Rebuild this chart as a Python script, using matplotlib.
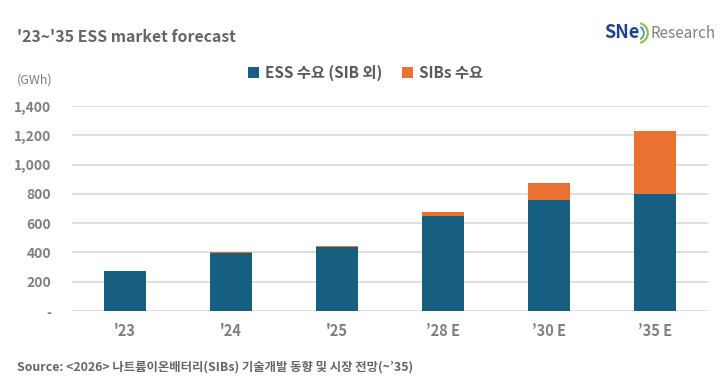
import numpy as np
import matplotlib
matplotlib.use("Agg")
import matplotlib.pyplot as plt
from matplotlib.patches import Arc

plt.rcParams['font.family'] = ['Noto Sans CJK KR', 'DejaVu Sans']

# data (GWh)
years = ["'23", "'24", "'25", "\u201928 E", "\u201930 E", "\u201935 E"]
ess_demand = [272, 396, 436, 648, 758, 800]
sib_demand = [3, 7, 10, 28, 116, 429]
y_ticks = [0, 200, 400, 600, 800, 1000, 1200, 1400]
y_tick_labels = ["-", "200", "400", "600", "800", "1,000", "1,200", "1,400"]

BLUE = "#175F80"
ORANGE = "#E97132"
GRAY = "#7F7F7F"

fig = plt.figure(figsize=(7.24, 3.81), dpi=100)
ax = fig.add_axes([72 / 724, 1 - 311 / 381, 636 / 724, 205 / 381])

x = np.arange(len(years))
ax.bar(x, ess_demand, width=0.4, color=BLUE, label="ESS 수요 (SIB 외)", zorder=3)
ax.bar(x, sib_demand, width=0.4, bottom=ess_demand, color=ORANGE, label="SIBs 수요", zorder=3)

ax.set_xlim(-0.5, len(years) - 0.5)
ax.set_ylim(0, 1400)
ax.set_yticks(y_ticks)
ax.set_yticklabels(y_tick_labels)
ax.set_xticks(x)
ax.set_xticklabels(years)
ax.yaxis.grid(True, color="#D9D9D9", linewidth=1.2, zorder=0)
ax.set_axisbelow(True)
for s in ax.spines.values():
    s.set_visible(False)
ax.tick_params(length=0)
ax.tick_params(axis="y", pad=15, labelsize=10, labelcolor=GRAY)
ax.tick_params(axis="x", pad=9, labelsize=10.5, labelcolor=GRAY)
for t in ax.get_xticklabels() + ax.get_yticklabels():
    t.set_fontweight("bold")

leg = fig.legend(loc="center", bbox_to_anchor=(0.505, 1 - 73 / 381), ncol=2, frameon=False,
                 fontsize=11, handlelength=0.7, handleheight=0.7, handletextpad=0.4,
                 columnspacing=1.3)
for t in leg.get_texts():
    t.set_color("#595959")
    t.set_fontweight("bold")

fig.text(17 / 724, 1 - 37 / 381, "'23~'35 ESS market forecast", fontsize=11.4, fontweight="bold",
         color="#666666", va="center", ha="left")
fig.text(17 / 724, 1 - 80 / 381, "(GWh)", fontsize=9, color=GRAY, va="center", ha="left")
fig.text(17 / 724, 1 - 367 / 381, "Source: <2026> 나트륨이온배터리(SIBs) 기술개발 동향 및 시장 전망(~\u201935)",
         fontsize=8.9, fontweight="bold", color="#666666", va="center", ha="left")

# logo
fig.text(604 / 724, 1 - 33 / 381, "SNe", fontsize=13, fontweight="bold", color="#1F3F8F",
         va="center", ha="left")
fig.text(651 / 724, 1 - 33 / 381, "Research", fontsize=11, color="#808080",
         va="center", ha="left")
lax = fig.add_axes([635 / 724, 1 - 45 / 381, 16 / 724, 24 / 381])
lax.set_xlim(0, 1)
lax.set_ylim(0, 1.5)
lax.axis("off")
lax.add_patch(Arc((0.1, 0.75), 1.4, 1.3, theta1=-70, theta2=70, color="#8CC63F", lw=1.6))
lax.add_patch(Arc((0.1, 0.75), 0.9, 0.9, theta1=-60, theta2=60, color="#3A8FD0", lw=1.2))

fig.savefig("out.png", dpi=100)
